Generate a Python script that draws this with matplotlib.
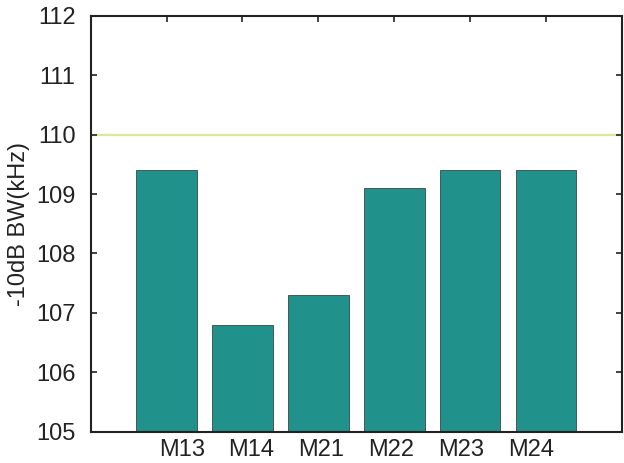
import numpy as np
import matplotlib
matplotlib.use('Agg')
import matplotlib.pyplot as plt

# -10 dB bandwidth per module
modules = ['M13', 'M14', 'M21', 'M22', 'M23', 'M24']
bandwidth = [109.4, 106.8, 107.3, 109.1, 109.4, 109.4]
limit_khz = 110
y_ticks = [105, 106, 107, 108, 109, 110, 111, 112]

plt.rcParams['font.family'] = ['Liberation Sans', 'DejaVu Sans']

fig = plt.figure(figsize=(6.24, 4.63), dpi=100)
ax = fig.add_axes([0.1454, 0.0676, 0.851, 0.8984])

pos = np.arange(1, len(modules) + 1)
ax.bar(pos, bandwidth, width=0.8, color='#21918c', edgecolor='#3a4645',
       linewidth=0.6, zorder=2)
ax.axhline(limit_khz, color='#d9e89a', linewidth=1.6, zorder=1)

ax.set_xlim(0, 7)
ax.set_ylim(105, 112)
ax.set_yticks(y_ticks)
ax.set_xticks(pos)
ax.set_xticklabels([])
ax.tick_params(axis='both', direction='in', length=4, width=1.2,
               top=True, right=True, labelsize=17, colors='#222222',
               labelcolor='#222222')
ax.tick_params(axis='y', pad=11)

# category labels sit on their own spacing under the axis
lab_x = 1.2 + 0.92 * np.arange(len(modules))
for x, name in zip(lab_x, modules):
    ax.text(x, -0.043, name, transform=ax.get_xaxis_transform(),
            ha='center', va='center', fontsize=17, color='#222222')

for s in ax.spines.values():
    s.set_linewidth(1.5)
    s.set_color('#222222')

ax.set_ylabel('-10dB BW(kHz)', fontsize=17, color='#222222', labelpad=4)

fig.savefig('out.png', dpi=100)
